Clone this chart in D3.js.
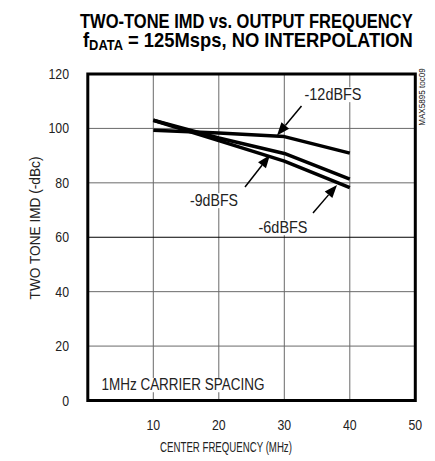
<!DOCTYPE html>
<html lang="en">
<head>
<meta charset="utf-8">
<title>Two-tone IMD vs output frequency</title>
<script src="https://cdn.jsdelivr.net/npm/d3@7"></script>
<style>
  body { margin: 0; background: #fff; }
  text { font-family: "Liberation Sans", Arial, sans-serif; }
</style>
</head>
<body>
<svg id="chart"></svg>
<script>
// data
var freqs = [10, 20, 30, 40];
var imd6 = [103, 95.5, 88, 78.2];
var imd9 = [103, 96.5, 90.8, 81.4];
var imd12 = [99.3, 98.3, 97, 90.9];
var xTicks = [10, 20, 30, 40, 50];
var yTicks = [0, 20, 40, 60, 80, 100, 120];

var width = 435, height = 461;

var svg = d3.select("#chart")
  .attr("width", width)
  .attr("height", height);

var x = d3.scaleLinear().domain([0, 50]).range([87.8, 415.3]);
var y = d3.scaleLinear().domain([0, 120]).range([400.5, 74]);

// text in a narrow face: squeeze horizontally, optionally to a given width
function addText(parent, tx, ty, str, o) {
  o = o || {};
  var g = parent.append("g");
  var t = g.append("text")
    .attr("text-anchor", o.anchor || "start")
    .style("font-size", (o.size || 14) + "px")
    .style("font-weight", o.bold ? "bold" : "normal")
    .attr("fill", o.fill || "#222")
    .text(str);
  var s = o.scale || 0.85;
  if (o.fit) s = o.fit / t.node().getComputedTextLength();
  g.attr("transform", "translate(" + tx + "," + ty + ")" +
    (o.rotate ? " rotate(" + o.rotate + ")" : "") + " scale(" + s + ",1)");
  return t;
}

// title
addText(svg, 80, 28, "TWO-TONE IMD vs. OUTPUT FREQUENCY", {size: 20, bold: true, fit: 333, fill: "#000"});
var t2 = addText(svg, 83, 47, "", {size: 20, bold: true, fill: "#000"});
t2.append("tspan").text("f");
t2.append("tspan").attr("dy", 3).style("font-size", "14px").text("DATA");
t2.append("tspan").attr("dy", -3).text(" = 125Msps, NO INTERPOLATION");
d3.select(t2.node().parentNode)
  .attr("transform", "translate(83,47) scale(" + (330 / t2.node().getComputedTextLength()) + ",1)");

// grid
svg.append("g").selectAll("line")
  .data(xTicks.filter(d => d < 50))
  .enter().append("line")
  .attr("x1", d => x(d)).attr("x2", d => x(d))
  .attr("y1", y(0)).attr("y2", y(120))
  .attr("stroke", "#6a6a6a").attr("stroke-width", 1);

svg.append("g").selectAll("line")
  .data(yTicks.filter(d => d > 0 && d < 120))
  .enter().append("line")
  .attr("x1", x(0)).attr("x2", x(50))
  .attr("y1", d => y(d)).attr("y2", d => y(d))
  .attr("stroke", d => d == 60 ? "#000" : "#6a6a6a").attr("stroke-width", 1);

// tick labels
yTicks.forEach(function(d) {
  addText(svg, 69, y(d) + 5, d, {size: 14, anchor: "end", scale: 0.88});
});
xTicks.forEach(function(d) {
  addText(svg, x(d), 430, d, {size: 14, anchor: "middle", scale: 0.88});
});

// axis titles
addText(svg, 226, 452, "CENTER FREQUENCY (MHz)", {size: 14, anchor: "middle", fit: 132});
addText(svg, 40, 228, "TWO TONE IMD (-dBc)", {size: 14, anchor: "middle", rotate: -90, fit: 143});
addText(svg, 425, 97, "MAX5895 toc09", {size: 9, anchor: "middle", rotate: -90, scale: 0.9});

// labels with white backing so the grid breaks behind them
function label(txt, tx, ty, w, anchor) {
  var t = addText(svg, tx, ty, txt, {size: 16, anchor: anchor || "middle", fit: w});
  var g = d3.select(t.node().parentNode);
  var b = t.node().getBBox();
  g.insert("rect", "text")
    .attr("x", b.x - 2).attr("y", b.y + 2)
    .attr("width", b.width + 4).attr("height", b.height - 3)
    .attr("fill", "#fff");
}

label("1MHz CARRIER SPACING", 101.5, 390, 163, "start");
label("-12dBFS", 333, 100, 57);
label("-9dBFS", 214, 206, 48);
label("-6dBFS", 283, 233, 49);

// curves
var line = d3.line()
  .x((d, i) => x(freqs[i]))
  .y(d => y(d));

[imd12, imd9, imd6].forEach(function(s) {
  svg.append("path")
    .attr("d", line(s))
    .attr("fill", "none")
    .attr("stroke", "#000")
    .attr("stroke-width", 3.5)
    .attr("stroke-linejoin", "round");
});

// arrows
function arrow(x1, y1, x2, y2) {
  var a = Math.atan2(y2 - y1, x2 - x1);
  var len = 13, w = 5;
  var bx = x2 - len * Math.cos(a), by = y2 - len * Math.sin(a);
  svg.append("line")
    .attr("x1", x1).attr("y1", y1).attr("x2", bx).attr("y2", by)
    .attr("stroke", "#000").attr("stroke-width", 1.5);
  svg.append("path")
    .attr("d", "M" + x2 + "," + y2 +
      "L" + (bx + w * Math.sin(a)) + "," + (by - w * Math.cos(a)) +
      "L" + (bx - w * Math.sin(a)) + "," + (by + w * Math.cos(a)) + "Z")
    .attr("fill", "#000");
}

arrow(301.5, 106, 277, 135.5);
arrow(245, 187, 270, 155);
arrow(313, 213, 337, 185);

// frame
svg.append("rect")
  .attr("x", x(0)).attr("y", y(120))
  .attr("width", x(50) - x(0)).attr("height", y(0) - y(120))
  .attr("fill", "none")
  .attr("stroke", "#000").attr("stroke-width", 3);
</script>
</body>
</html>
